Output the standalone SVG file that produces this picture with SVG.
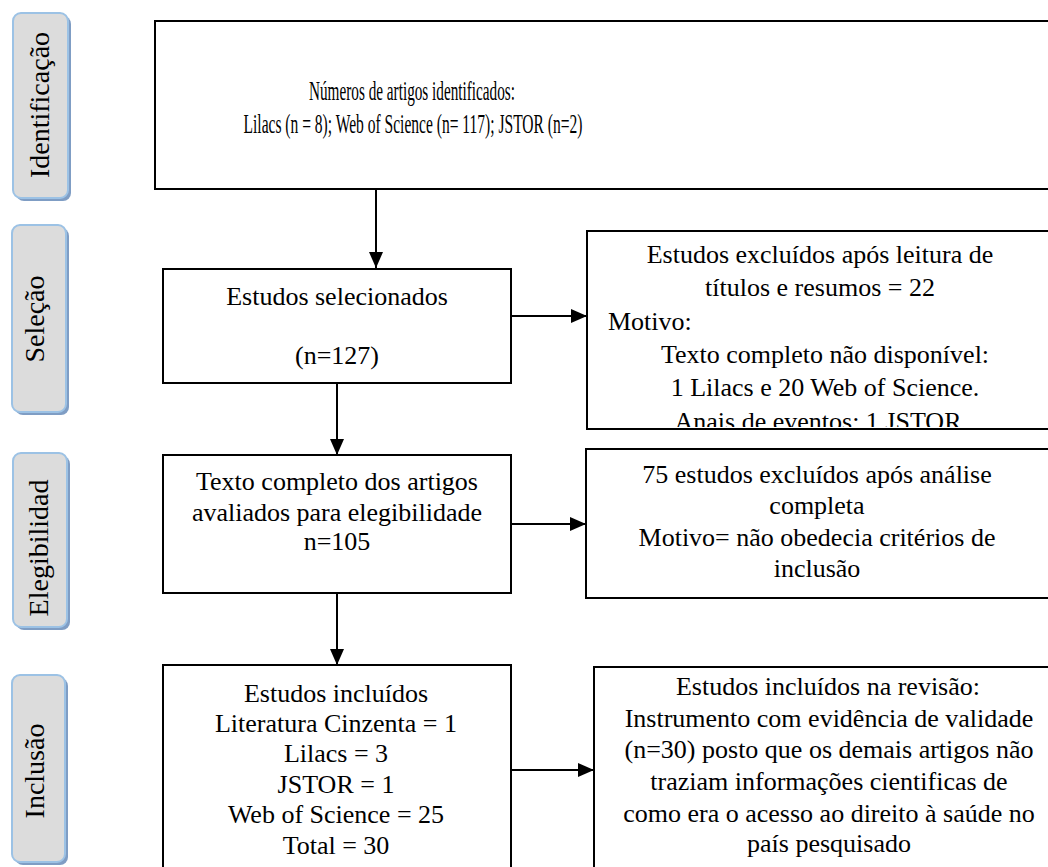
<svg xmlns="http://www.w3.org/2000/svg" width="1048" height="867" viewBox="0 0 1048 867">
  <defs>
    <style>
      .box { fill: #ffffff; stroke: #000000; stroke-width: 2; }
      .t { font-family: "Liberation Serif", "Times New Roman", serif; font-size: 26px; fill: #000000; text-anchor: middle; }
      .tc { font-size: 28px; }
      .tl { text-anchor: start; }
      .phase { fill: #dcdcdc; stroke: #9cc2e5; stroke-width: 2; }
      .phase-shadow { fill: #7f9dc4; }
      .pl { font-family: "Liberation Serif", "Times New Roman", serif; font-size: 28px; fill: #000000; text-anchor: middle; }
      .conn { stroke: #000000; stroke-width: 2; fill: none; marker-end: url(#arrow); }
    </style>
    <marker id="arrow" markerUnits="userSpaceOnUse" markerWidth="16" markerHeight="14" refX="16" refY="7" orient="auto">
      <path d="M0,0 L16,7 L0,14 Z" fill="#000000"/>
    </marker>
    <clipPath id="clip-excl1">
      <rect x="588" y="232" width="470" height="195"/>
    </clipPath>
  </defs>

  <!-- phase labels down the left side -->
  <g id="phase-identificacao">
    <rect class="phase-shadow" x="16" y="16" width="55" height="185" rx="8"/>
    <rect class="phase" x="13" y="13" width="55" height="185" rx="8"/>
    <text class="pl" transform="translate(49,105) rotate(-90)">Identificação</text>
  </g>
  <g id="phase-selecao">
    <rect class="phase-shadow" x="15" y="228" width="54" height="187" rx="8"/>
    <rect class="phase" x="12" y="225" width="54" height="187" rx="8"/>
    <text class="pl" transform="translate(44,319) rotate(-90)">Seleção</text>
  </g>
  <g id="phase-elegibilidade">
    <rect class="phase-shadow" x="16" y="456" width="54" height="174" rx="8"/>
    <rect class="phase" x="13" y="453" width="54" height="174" rx="8"/>
    <text class="pl" transform="translate(48,548) rotate(-90)">Elegibilidad</text>
  </g>
  <g id="phase-inclusao">
    <rect class="phase-shadow" x="15" y="678" width="53" height="187" rx="8"/>
    <rect class="phase" x="12" y="675" width="53" height="187" rx="8"/>
    <text class="pl" transform="translate(44,771) rotate(-90)">Inclusão</text>
  </g>

  <!-- flow boxes -->
  <g id="identificados">
    <rect class="box" x="155" y="21" width="910" height="168"/>
    <text class="t tc" x="412" y="100" textLength="206" lengthAdjust="spacingAndGlyphs">Números de artigos identificados:</text>
    <text class="t tc" x="413" y="133" textLength="339" lengthAdjust="spacingAndGlyphs">Lilacs (n = 8); Web of Science (n= 117); JSTOR (n=2)</text>
  </g>

  <g id="selecionados">
    <rect class="box" x="163" y="269" width="348" height="114"/>
    <text class="t" x="337" y="305">Estudos selecionados</text>
    <text class="t" x="337" y="364">(n=127)</text>
  </g>

  <g id="excluidos-titulos">
    <rect class="box" x="587" y="231" width="480" height="198"/>
    <g clip-path="url(#clip-excl1)">
      <text class="t" x="820" y="263">Estudos excluídos após leitura de</text>
      <text class="t" x="820" y="296">títulos e resumos = 22</text>
      <text class="t tl" x="608" y="330">Motivo:</text>
      <text class="t" x="825" y="363">Texto completo não disponível:</text>
      <text class="t" x="825" y="396">1 Lilacs e 20 Web of Science.</text>
      <text class="t" x="818" y="430">Anais de eventos: 1 JSTOR</text>
    </g>
  </g>

  <g id="texto-completo">
    <rect class="box" x="163" y="455" width="348" height="138"/>
    <text class="t" x="337" y="490">Texto completo dos artigos</text>
    <text class="t" x="337" y="521">avaliados para elegibilidade</text>
    <text class="t" x="337" y="550">n=105</text>
  </g>

  <g id="excluidos-analise">
    <rect class="box" x="586" y="449" width="480" height="149"/>
    <text class="t" x="817" y="483">75 estudos excluídos após análise</text>
    <text class="t" x="817" y="514">completa</text>
    <text class="t" x="817" y="546">Motivo= não obedecia critérios de</text>
    <text class="t" x="817" y="577">inclusão</text>
  </g>

  <g id="incluidos">
    <rect class="box" x="163" y="665" width="348" height="220"/>
    <text class="t" x="336" y="702">Estudos incluídos</text>
    <text class="t" x="336" y="732">Literatura Cinzenta = 1</text>
    <text class="t" x="336" y="762">Lilacs = 3</text>
    <text class="t" x="336" y="793">JSTOR = 1</text>
    <text class="t" x="336" y="823">Web of Science = 25</text>
    <text class="t" x="336" y="854">Total = 30</text>
  </g>

  <g id="incluidos-revisao">
    <rect class="box" x="594" y="667" width="480" height="220"/>
    <text class="t" x="828" y="695">Estudos incluídos na revisão:</text>
    <text class="t" x="829" y="727">Instrumento com evidência de validade</text>
    <text class="t" x="829" y="758">(n=30) posto que os demais artigos não</text>
    <text class="t" x="829" y="790">traziam informações cientificas de</text>
    <text class="t" x="829" y="822">como era o acesso ao direito à saúde no</text>
    <text class="t" x="829" y="852">país pesquisado</text>
  </g>

  <!-- connectors -->
  <g id="connectors">
    <line class="conn" x1="376" y1="189" x2="376" y2="268"/>
    <line class="conn" x1="511" y1="316" x2="587" y2="316"/>
    <line class="conn" x1="337" y1="383" x2="337" y2="455"/>
    <line class="conn" x1="511" y1="524" x2="586" y2="524"/>
    <line class="conn" x1="337" y1="593" x2="337" y2="665"/>
    <line class="conn" x1="511" y1="770" x2="594" y2="770"/>
  </g>
</svg>
